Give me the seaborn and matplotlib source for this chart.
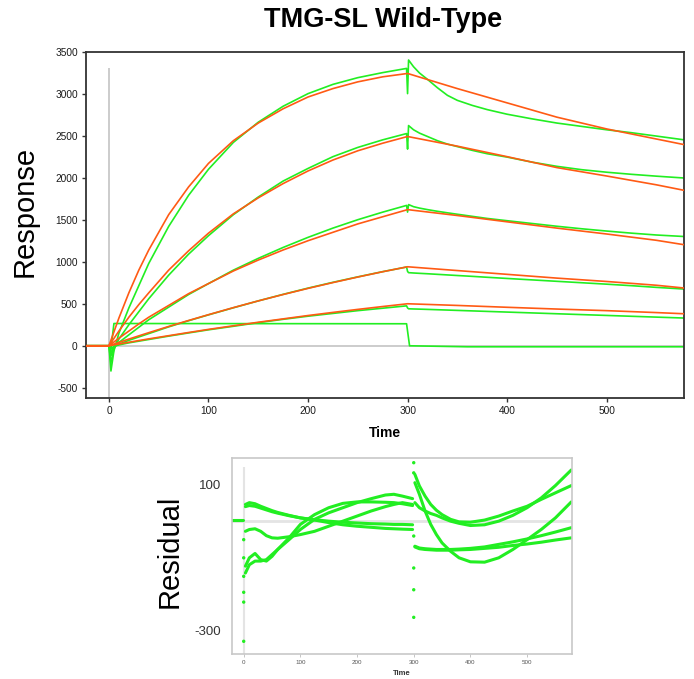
import numpy as np
import pandas as pd
import seaborn as sns
import matplotlib.pyplot as plt

# ---- sensorgram data ----
t_data = [-23, 0, 2, 5, 10, 20, 40, 60, 80, 100, 125, 150, 175, 200, 225, 250, 275, 299,
          300, 301, 306, 312, 320, 330, 340, 350, 365, 380, 400, 425, 450, 475, 500, 525, 550, 578]
data_1 = [0, 0, -300, -60, 150, 450, 980, 1420, 1790, 2100, 2420, 2660, 2850, 3000, 3110, 3190, 3250, 3300,
          3000, 3400, 3320, 3245, 3170, 3070, 2980, 2920, 2860, 2810, 2755, 2700, 2650, 2610, 2570, 2535, 2495, 2450]
data_2 = [0, 0, -200, -40, 80, 250, 560, 840, 1090, 1310, 1560, 1770, 1960, 2110, 2250, 2360, 2450, 2525,
          2340, 2620, 2570, 2530, 2490, 2440, 2400, 2370, 2325, 2285, 2245, 2185, 2135, 2095, 2065, 2040, 2018, 1996]
data_3 = [0, 0, -120, -20, 40, 130, 310, 460, 610, 740, 900, 1040, 1170, 1290, 1400, 1500, 1590, 1670,
          1590, 1680, 1655, 1638, 1620, 1600, 1582, 1565, 1540, 1515, 1488, 1455, 1422, 1392, 1365, 1340, 1318, 1300]
data_4 = [0, 0, -80, -10, 20, 65, 145, 225, 298, 368, 452, 534, 612, 686, 755, 820, 882, 937,
          885, 870, 866, 862, 857, 850, 843, 836, 826, 815, 801, 784, 767, 750, 733, 715, 695, 675]
data_5 = [0, 0, -40, -5, 10, 35, 75, 115, 153, 190, 232, 275, 315, 352, 385, 418, 447, 475,
          450, 440, 438, 436, 433, 429, 425, 421, 415, 409, 401, 391, 381, 371, 361, 351, 341, 330]

t_blank = [-23, 0, 2, 5, 299, 302, 360, 578]
blank = [0, 0, -40, 265, 262, 0, -12, -12]

t_fit = [-23, 0, 10, 20, 30, 40, 60, 80, 100, 125, 150, 175, 200, 225, 250, 275, 300,
         350, 400, 450, 500, 550, 578]
fit_1 = [0, 0, 330, 630, 900, 1140, 1560, 1890, 2170, 2440, 2650, 2820, 2960, 3060, 3140, 3200, 3240,
         3060, 2890, 2720, 2580, 2460, 2393]
fit_2 = [0, 0, 175, 340, 490, 630, 900, 1130, 1340, 1570, 1760, 1930, 2080, 2210, 2320, 2410, 2490,
         2375, 2250, 2120, 2020, 1915, 1849]
fit_3 = [0, 0, 90, 175, 260, 340, 480, 620, 740, 890, 1020, 1140, 1250, 1350, 1450, 1535, 1620,
         1550, 1475, 1400, 1330, 1255, 1202]
fit_4 = [0, 0, 40, 80, 118, 156, 230, 301, 370, 454, 534, 610, 683, 752, 818, 881, 940,
         895, 850, 805, 765, 720, 687]
fit_5 = [0, 0, 21, 42, 62, 82, 120, 158, 195, 238, 280, 320, 360, 397, 433, 467, 500,
         480, 458, 437, 418, 395, 381]

# ---- residual data ----
res_t_pre = [-21, -1]
res_pre = [2, 2]
res_t_assoc = [3, 10, 20, 30, 40, 50, 60, 80, 100, 125, 150, 175, 200, 225, 250, 265, 280, 298]
res_a1 = [46, 51, 48, 41, 35, 29, 24, 16, 9, 3, -4, -10, -14, -17, -20, -21, -22, -23]
res_a2 = [40, 43, 41, 36, 31, 26, 22, 15, 9, 4, 0, -3, -5, -7, -8, -9, -9, -10]
res_a3 = [-28, -23, -21, -28, -40, -46, -47, -43, -37, -28, -14, 0, 14, 28, 40, 46, 51, 46]
res_a4 = [-124, -101, -89, -106, -110, -97, -78, -46, -9, 18, 37, 49, 53, 53, 52, 51, 48, 43]
res_a5 = [-143, -120, -110, -110, -106, -92, -78, -51, -23, 5, 23, 37, 51, 62, 72, 74, 69, 62]
res_t_diss = [302, 310, 320, 330, 340, 350, 365, 380, 400, 425, 450, 475, 500, 525, 550, 578]
res_d1 = [129, 97, 69, 46, 30, 18, 5, -2, -3, 3, 14, 28, 41, 60, 78, 98]
res_d2 = [51, 37, 28, 21, 16, 9, 0, -6, -12, -10, 0, 16, 37, 64, 98, 141]
res_d3 = [106, 74, 28, -9, -37, -60, -83, -101, -112, -113, -101, -78, -51, -23, 9, 53]
res_d4 = [-69, -74, -76, -77, -78, -78, -78, -77, -75, -71, -64, -57, -49, -40, -30, -18]
res_d5 = [-71, -76, -78, -79, -80, -80, -80, -79, -78, -75, -72, -67, -63, -58, -52, -46]
res_dot_t = [0, 0, 0, 0, 0, 0, 300, 300, 300, 300, 300, 300]
res_dot_v = [-331, -223, -196, -152, -101, -51, 161, 133, -41, -129, -189, -265]

GREEN = "#22ee22"
ORANGE = "#ff5a14"
REF_GRAY = "#c4c4c4"
ref_top = 3300
res_ref_top = 148


def long_form(t, series):
    parts = [pd.DataFrame({"t": t, "v": vals, "curve": name}) for name, vals in series.items()]
    return pd.concat(parts, ignore_index=True)


df_data = pd.concat([
    long_form(t_data, {"d1": data_1, "d2": data_2, "d3": data_3, "d4": data_4, "d5": data_5}),
    long_form(t_blank, {"blank": blank}),
], ignore_index=True)
df_fit = long_form(t_fit, {"f1": fit_1, "f2": fit_2, "f3": fit_3, "f4": fit_4, "f5": fit_5})
df_res = pd.concat([
    long_form(res_t_pre, {"pre": res_pre}),
    long_form(res_t_assoc, {"a1": res_a1, "a2": res_a2, "a3": res_a3, "a4": res_a4, "a5": res_a5}),
    long_form(res_t_diss, {"b1": res_d1, "b2": res_d2, "b3": res_d3, "b4": res_d4, "b5": res_d5}),
], ignore_index=True)
df_dots = pd.DataFrame({"t": res_dot_t, "v": res_dot_v})

sns.set_style("white")
plt.rcParams["font.family"] = ["Liberation Sans", "DejaVu Sans"]
plt.rcParams["axes.unicode_minus"] = False
plt.rcParams["text.color"] = "black"
plt.rcParams["axes.labelcolor"] = "black"

fig = plt.figure(figsize=(6.94, 6.79), dpi=100)

# ---- top: sensorgram ----
ax = fig.add_axes([0.124, 0.414, 0.862, 0.510])
xlim = (-23, 578)
ylim = (-620, 3500)
ax.axhline(0, color=REF_GRAY, lw=1.2, zorder=1)
ax.vlines(0, ylim[0], ref_top, color=REF_GRAY, lw=1.2, zorder=1)
sns.lineplot(data=df_data, x="t", y="v", units="curve", estimator=None, sort=False,
             color=GREEN, lw=1.2, ax=ax, zorder=2)
sns.lineplot(data=df_fit, x="t", y="v", units="curve", estimator=None, sort=False,
             color=ORANGE, lw=1.2, ax=ax, zorder=3)
ax.set_xlim(*xlim)
ax.set_ylim(*ylim)
ax.set_xticks([0, 100, 200, 300, 400, 500])
ax.set_yticks(np.arange(-500, 3501, 500))
ax.tick_params(bottom=True, left=True, direction="out", length=3, width=1, color="#333333",
               labelsize=7.3, labelcolor="#1a1a1a", pad=3)
for s in ax.spines.values():
    s.set_color("#333333")
    s.set_linewidth(1.3)
ax.set_xlabel("Time", fontsize=10, fontweight="bold")
ax.xaxis.set_label_coords(0.5, -0.101)
ax.xaxis.label.set_va("center")
ax.set_ylabel("Response", fontsize=21)
ax.yaxis.set_label_coords(-0.102, 0.538)
ax.yaxis.label.set_va("center")

fig.text(0.552, 1 - 27 / 679, "TMG-SL Wild-Type", fontsize=19.5, fontweight="bold",
         ha="center", va="baseline", color="black")

# ---- bottom: residuals ----
ax2 = fig.add_axes([0.334, 0.0368, 0.490, 0.2887])
rxlim = (-21, 579)
rylim = (-366, 174)
ax2.axhline(0, color="#e4e4e4", lw=2, zorder=1)
ax2.vlines(0, rylim[0], res_ref_top, color="#e4e4e4", lw=1.5, zorder=1)
sns.lineplot(data=df_res, x="t", y="v", units="curve", estimator=None, sort=False,
             color=GREEN, lw=2.2, ax=ax2, zorder=2)
sns.scatterplot(data=df_dots, x="t", y="v", color=GREEN, s=6, edgecolor="none", ax=ax2, zorder=3)
ax2.set_xlim(*rxlim)
ax2.set_ylim(*rylim)
ax2.set_xticks([0, 100, 200, 300, 400, 500])
ax2.set_yticks([100, -300])
ax2.tick_params(axis="x", bottom=True, direction="out", length=2, width=0.6, color="#bbbbbb",
                labelsize=4.5, labelcolor="#555555", pad=2)
ax2.tick_params(axis="y", left=False, labelsize=9.5, labelcolor="#333333", pad=4)
for s in ax2.spines.values():
    s.set_color("#c8c8c8")
    s.set_linewidth(1.2)
ax2.set_xlabel("Time", fontsize=5.5, fontweight="bold", color="#333333")
ax2.xaxis.set_label_coords(0.5, -0.097)
ax2.xaxis.label.set_va("center")
ax2.set_ylabel("Residual", fontsize=21)
ax2.yaxis.set_label_coords(-0.182, 0.525)
ax2.yaxis.label.set_va("center")

fig.savefig("out.png", dpi=100)
